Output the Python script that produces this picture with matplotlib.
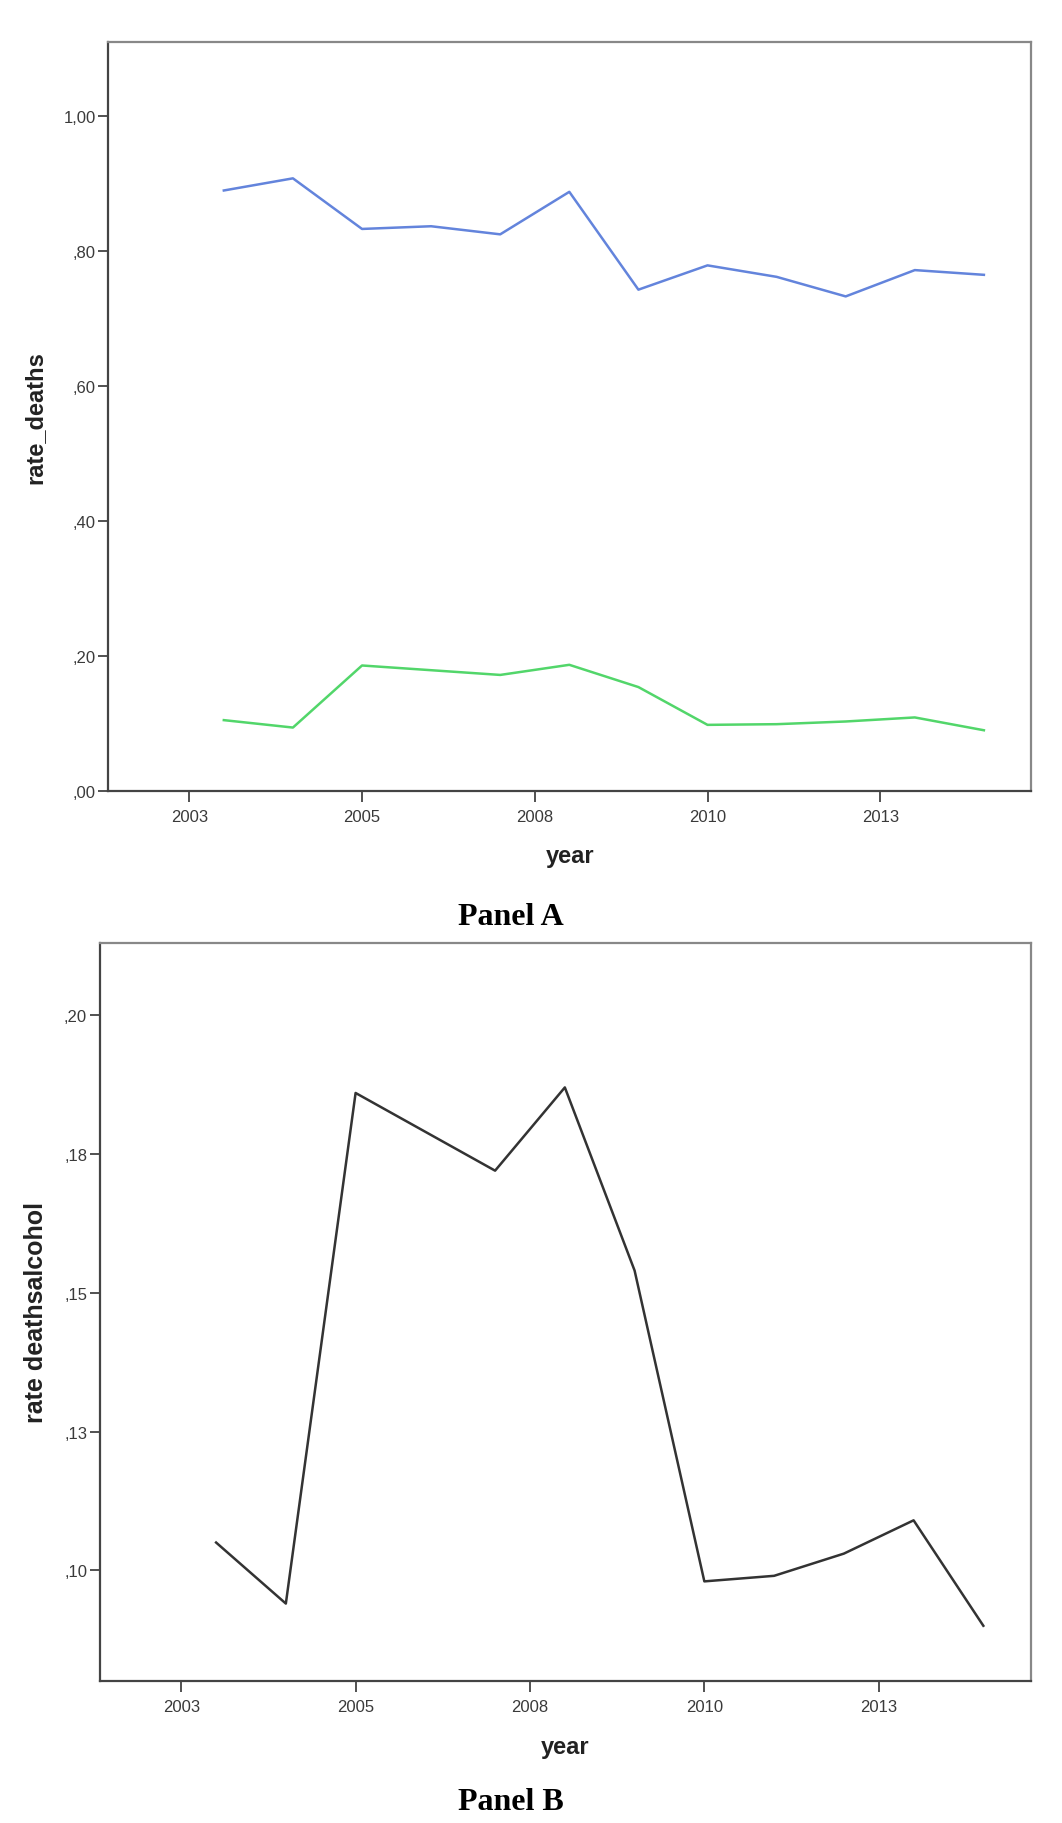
import numpy as np
import matplotlib
matplotlib.use("Agg")
import matplotlib.pyplot as plt

# dados (taxas por ano)
years = np.arange(2003, 2015)
rate_all = [0.890, 0.908, 0.833, 0.837, 0.825, 0.888, 0.743, 0.779, 0.762, 0.733, 0.772, 0.765]
rate_alcohol = [0.105, 0.094, 0.186, 0.179, 0.172, 0.187, 0.154, 0.098, 0.099, 0.103, 0.109, 0.090]

# eixo x do SPSS: rotulos arredondados para o ano inteiro
xticks = [2003, 2005.5, 2008, 2010.5, 2013]
xticklabels = ["2003", "2005", "2008", "2010", "2013"]

yticks_a = [0.0, 0.2, 0.4, 0.6, 0.8, 1.0]
yticklabels_a = [",00", ",20", ",40", ",60", ",80", "1,00"]
yticks_b = [0.10, 0.125, 0.15, 0.175, 0.20]
yticklabels_b = [",10", ",13", ",15", ",18", ",20"]

plt.rcParams['font.family'] = ['Liberation Sans', 'DejaVu Sans']

fig = plt.figure(figsize=(10.62, 18.24), dpi=100)
ax_a = fig.add_axes([0.1021, 0.5658, 0.8686, 0.4106])
ax_b = fig.add_axes([0.0938, 0.0777, 0.8768, 0.4050])

x = years + 0.5


def estilo(ax):
    for lado in ["left", "bottom"]:
        ax.spines[lado].set_color("#444444")
        ax.spines[lado].set_linewidth(1.6)
    for lado in ["top", "right"]:
        ax.spines[lado].set_color("#888888")
        ax.spines[lado].set_linewidth(1.6)
    ax.tick_params(axis="x", direction="out", length=8, width=1.2, color="#333333",
                   labelsize=12, labelcolor="#3a3a3a", pad=5)
    ax.tick_params(axis="y", direction="out", length=7, width=1.2, color="#333333",
                   labelsize=12, labelcolor="#3a3a3a", pad=2)
    ax.set_xticks(xticks)
    ax.set_xticklabels(xticklabels)
    ax.set_xlim(2001.83, 2015.18)


# Painel A
ax_a.plot(x, rate_all, color="#6384dc", lw=1.8)
ax_a.plot(x, rate_alcohol, color="#52d66a", lw=1.8)
estilo(ax_a)
ax_a.set_ylim(0, 1.11)
ax_a.set_yticks(yticks_a)
ax_a.set_yticklabels(yticklabels_a)
ax_a.set_xlabel("year", fontsize=17, fontweight="bold", color="#222222")
ax_a.set_ylabel("rate_deaths", fontsize=17, fontweight="bold", color="#222222")
ax_a.xaxis.set_label_coords(0.5, -0.071)
ax_a.yaxis.set_label_coords(-0.067, 0.5)

# Painel B
ax_b.plot(x, rate_alcohol, color="#333333", lw=1.8)
estilo(ax_b)
ax_b.set_ylim(0.080, 0.2131)
ax_b.set_yticks(yticks_b)
ax_b.set_yticklabels(yticklabels_b)
ax_b.set_xlabel("year", fontsize=17, fontweight="bold", color="#222222")
ax_b.set_ylabel("rate deathsalcohol", fontsize=18, fontweight="bold", color="#222222")
ax_b.xaxis.set_label_coords(0.5, -0.0727)
ax_b.yaxis.set_label_coords(-0.055, 0.5)

fig.text(511 / 1062, 1 - 918 / 1824, "Panel A", family="Liberation Serif",
         fontsize=23, fontweight="bold", ha="center", va="center")
fig.text(511 / 1062, 1 - 1803 / 1824, "Panel B", family="Liberation Serif",
         fontsize=23, fontweight="bold", ha="center", va="center")

fig.savefig("out.png", dpi=100)
